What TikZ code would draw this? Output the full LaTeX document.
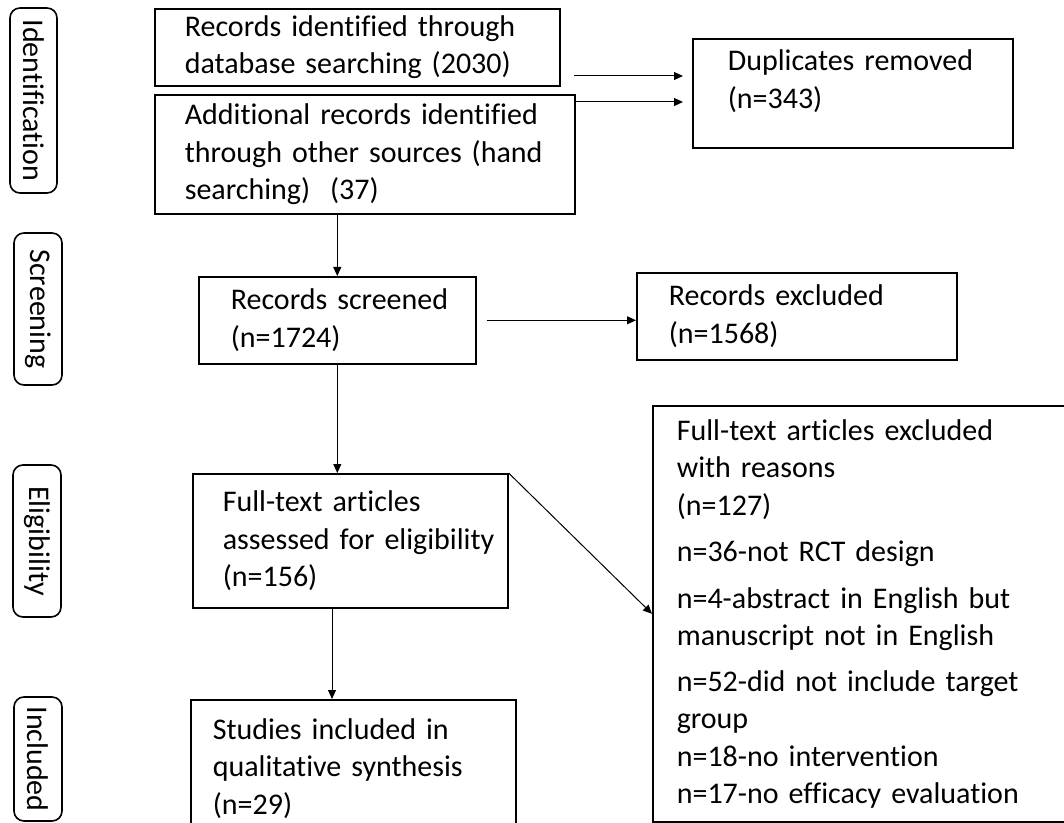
\documentclass[tikz,border=0pt]{standalone}
\usepackage{fontspec}
\setmainfont{Carlito}[Ligatures={NoCommon,NoContextual}]
\usetikzlibrary{arrows.meta}

\begin{document}
\begin{tikzpicture}[x=0.5pt, y=-0.5pt,
    every node/.style={font=\fontsize{15pt}{18.75pt}\selectfont},
    box/.style={draw, line width=0.8pt, anchor=north west, align=left, inner xsep=3pt, inner ysep=0pt},
    boxsize/.style n args={3}{text width=#1-6pt, minimum height=#2, execute at begin node={\leftskip=#3\relax}},
    stage/.style={draw, line width=0.8pt, rounded corners=5pt, rotate=-90, inner sep=0pt},
    arr/.style={-{Triangle[length=4.5pt,width=4pt]}, line width=0.5pt}]
      \useasboundingbox (0,0) rectangle (1064,823);

      % 1. 階段標籤
      \node[stage, minimum width=92.5pt, minimum height=23.5pt] (identlab) at (33.5,100.5) {Identification};
      \node[stage, minimum width=76pt, minimum height=24pt] (screenlab) at (38,309) {Screening};
      \node[stage, minimum width=76pt, minimum height=24pt] (eliglab) at (37,541) {Eligibility};
      \node[stage, minimum width=62pt, minimum height=24pt] (inclab) at (38,759) {Included};

      % 2. Identification
      \node[box, boxsize={202.5pt}{38.5pt}{12pt}] (recid) at (154,8) {Records identified through\\database searching (2030)};
      \node[box, boxsize={210pt}{59.5pt}{12pt}] (addrec) at (154,94) {Additional records identified\\through other sources (hand\\searching)\ \ (37)};
      \node[box, boxsize={160pt}{54.5pt}{14.5pt}] (dup) at (692,38) {Duplicates removed\\(n=343)\rule[-14pt]{0pt}{0pt}};

      % 3. Screening
      \node[box, boxsize={138.5pt}{43.5pt}{13pt}] (screened) at (198,276) {Records screened\\(n=1724)};
      \node[box, boxsize={160pt}{43.5pt}{13pt}] (excluded) at (636,272) {Records excluded\\(n=1568)};

      % 4. Eligibility
      \node[box, boxsize={157.5pt}{67pt}{12pt}] (fulltext) at (192,473) {Full-text articles\\assessed for eligibility\\(n=156)};
      \node[box, boxsize={208pt}{208pt}{9pt}] (reasons) at (652,405) {Full-text articles excluded\\with reasons\\(n=127)\\[4.5pt]n=36-not RCT design\\[4.5pt]n=4-abstract in English but\\manuscript not in English\\[4pt]n=52-did not include target\\group\\n=18-no intervention\\n=17-no efficacy evaluation};

      % 5. Included
      \node[box, boxsize={162.5pt}{68.5pt}{8pt}] (studies) at (190,699) {Studies included in\\qualitative synthesis\\(n=29)};

      % 6. 箭頭
      \coordinate (p1) at (574,76);
      \coordinate (p2) at (574,102);
      \coordinate (p3) at (332,607);
      \draw[arr, shorten >=4.5pt] (p1) -- (p1 -| dup.west);
      \draw[arr, shorten >=4.5pt] (p2) -- (p2 -| dup.west);
      \draw[arr] (screened.north |- addrec.south) -- (screened.north);
      \draw[arr, shorten <=5pt] (screened.east) -- (screened.east -| excluded.west);
      \draw[arr] (screened.south) -- (screened.south |- fulltext.north);
      \draw[arr] (fulltext.north east) -- (reasons.west);
      \draw[arr] (p3) -- (p3 |- studies.north);
    \end{tikzpicture}
\end{document}
